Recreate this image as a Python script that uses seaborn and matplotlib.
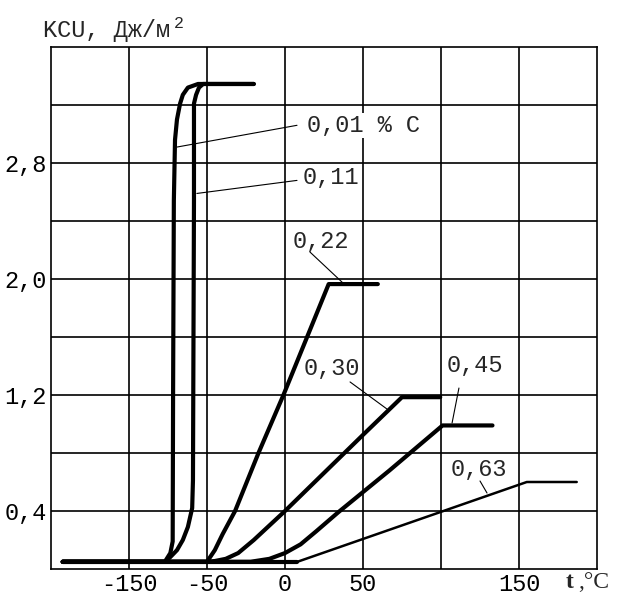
import numpy as np
import pandas as pd
import matplotlib
matplotlib.use("Agg")
import matplotlib.pyplot as plt
import seaborn as sns

# impact strength KCU vs temperature for steels with different carbon content
t_001 = [-235, -104, -97, -94, -93.5, -92.5, -91, -88.5, -84.5, -81, -74.5, -61.5, -20]
kcu_001 = [0.05, 0.05, 0.11, 0.19, 1.17, 2.54, 2.96, 3.10, 3.21, 3.27, 3.32, 3.345, 3.345]

t_011 = [-235, -104, -97.5, -88.5, -81, -74.5, -69, -68, -66.7, -66.7, -64, -60.3, -55, -20]
kcu_011 = [0.05, 0.05, 0.08, 0.13, 0.2, 0.29, 0.42, 0.61, 2.54, 3.21, 3.27, 3.32, 3.345, 3.345]

t_022 = [-235, -50, -45, -40, -36, -32, -17, -1, 28, 59.5]
kcu_022 = [0.05, 0.05, 0.13, 0.24, 0.32, 0.4, 0.8, 1.2, 1.965, 1.965]

t_030 = [-235, -50, -45, -38, -30, -20, -10, 0, 50, 75, 99.5]
kcu_030 = [0.05, 0.05, 0.055, 0.07, 0.11, 0.2, 0.3, 0.4, 0.925, 1.185, 1.185]

t_045 = [-235, -22, -10, 0, 10, 20, 34, 67, 101, 133]
kcu_045 = [0.05, 0.05, 0.07, 0.11, 0.17, 0.26, 0.39, 0.68, 0.99, 0.99]

t_063 = [-235, 8, 155, 187]
kcu_063 = [0.05, 0.05, 0.6, 0.6]

labels = ["0,01 % C", "0,11", "0,22", "0,30", "0,45", "0,63"]
# label anchor (t, kcu) and leader line ends
label_pos = [(14, 3.06), (11.5, 2.70), (23, 2.26), (30, 1.386), (122, 1.40), (124.5, 0.683)]
leader_t = [(-88.5, 7.7), (-63, 7.7), (16, 37.2), (41.7, 65.4), (111.5, 107.1), (125, 129.5)]
leader_k = [(2.91, 3.06), (2.59, 2.68), (2.186, 1.972), (1.29, 1.103), (1.248, 1.007), (0.607, 0.524)]

x_ticks = [-150, -50, 0, 50, 150]
x_ticklabels = ["-150", "-50", "0", "50", "150"]
x_grid = [-150, -50, 0, 50, 100, 150]
y_ticks = [0.4, 1.2, 2.0, 2.8]
y_ticklabels = ["0,4", "1,2", "2,0", "2,8"]
y_grid = [0.4, 0.8, 1.2, 1.6, 2.0, 2.4, 2.8, 3.2]

sns.set_style("white")
plt.rcParams['font.family'] = ['Liberation Mono', 'DejaVu Sans']

fig = plt.figure(figsize=(6.22, 5.96), dpi=100)
ax = fig.add_axes([51 / 622, 27 / 596, 546 / 622, 522 / 596])

thick = 3.0
for tt, kk in [(t_001, kcu_001), (t_011, kcu_011), (t_022, kcu_022),
               (t_030, kcu_030), (t_045, kcu_045)]:
    sns.lineplot(x=tt, y=kk, ax=ax, color="black", lw=thick, sort=False,
                 estimator=None, zorder=4)
# baseline part of 0.63 is thick, the rest thin
sns.lineplot(x=t_063[:2], y=kcu_063[:2], ax=ax, color="black", lw=thick,
             sort=False, estimator=None, zorder=4)
sns.lineplot(x=t_063[1:], y=kcu_063[1:], ax=ax, color="black", lw=1.8,
             sort=False, estimator=None, zorder=4)

for lt, lk in zip(leader_t, leader_k):
    ax.plot(lt, lk, color="black", lw=0.8, zorder=3)

for i, (txt, (tx, ty)) in enumerate(zip(labels, label_pos)):
    ha = "left" if i < 2 else "center"
    kw = {}
    if i == 0:
        kw["bbox"] = dict(facecolor="white", edgecolor="none", pad=0.5)
    ax.text(tx, ty, txt, ha=ha, va="center", fontsize=17, zorder=5, **kw)


# the original temperature axis is not uniform: 100 deg per cell below -50, 50 above
def fwd(t):
    t = np.asarray(t, dtype=float)
    return np.where(t >= -50, t / 50.0, -1 + (t + 50) / 100.0)


def inv(u):
    u = np.asarray(u, dtype=float)
    return np.where(u >= -1, u * 50.0, (u + 1) * 100.0 - 50)


ax.set_xscale("function", functions=(fwd, inv))
ax.set_xlim(-250, 200)
ax.set_ylim(0, 3.6)

ax.set_xticks(x_ticks)
ax.set_xticklabels(x_ticklabels, fontsize=17)
ax.set_xticks(x_grid, minor=True)
ax.set_yticks(y_ticks)
ax.set_yticklabels(y_ticklabels, fontsize=17)
ax.set_yticks(y_grid, minor=True)
ax.tick_params(axis="both", which="both", length=0, pad=3, colors="black")
ax.grid(True, which="both", color="black", lw=1.2)
ax.set_axisbelow(True)
for s in ax.spines.values():
    s.set_color("black")
    s.set_linewidth(1.2)
ax.set_xlabel("")
ax.set_ylabel("")

fig.text(43 / 622, 1 - 31 / 596, "KCU, Дж/м", ha="left", va="center", fontsize=17)
fig.text(174 / 622, 1 - 24 / 596, "2", ha="left", va="center", fontsize=12)
fig.text(566 / 622, 1 - 583 / 596, "t", ha="left", va="center", fontsize=17,
         fontweight="bold", family="Liberation Serif")
fig.text(578 / 622, 1 - 583 / 596, ",°C", ha="left", va="center", fontsize=17,
         family="Liberation Serif")

fig.savefig("out.png", dpi=100)
